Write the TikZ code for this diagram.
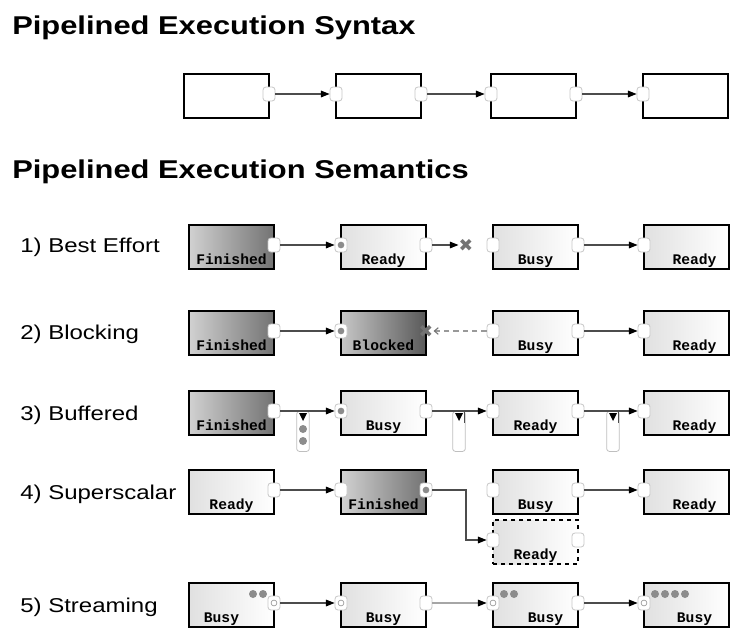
\documentclass[tikz,border=0pt]{standalone}
\usepackage{fontspec}
\setmainfont{Liberation Sans}
\newfontfamily\wideSans{Liberation Sans}[FakeStretch=1.2]
\newfontfamily\stagemono{Liberation Mono}
\newfontfamily\symbolfont{DejaVu Sans}
\usetikzlibrary{arrows.meta,calc}

% one pipeline stage: #1 name, #2 left x, #3 top y, #4 fill style, #5 state text, #6 text x offset
\newcommand\stage[6]{%
  \node[stagebox,#4] (#1) at (#2+42.5,#3+22) {};
  \node[stagetext] (#1t) at (#2+42.5+#6,#3+39) {#5};
}
% output port (east) and input port (west) of a stage
\newcommand\eport[2]{\node[#2] (#1e) at ([yshift=1.5pt]#1.east) {};}
\newcommand\wport[2]{\node[#2] (#1w) at ([yshift=1.5pt]#1.west) {};}

\tikzset{
  stagebox/.style={draw=black, line width=1.3pt, minimum width=63.75pt,
    minimum height=33pt, inner sep=0pt, outer sep=0pt},
  plainfill/.style={fill=white},
  lightfill/.style={left color=black!12, right color=white},
  darkfill/.style={left color=black!18, right color=black!55},
  blockfill/.style={left color=black!22, right color=black!65},
  stagetext/.style={anchor=base, inner sep=0pt,
    font=\stagemono\bfseries\fontsize{11}{11}\selectfont},
  port/.style={draw=black!22, fill=white, rounded corners=2.2pt,
    minimum width=9pt, minimum height=10.5pt, inner sep=0pt, line width=0.6pt},
  dotport/.style={port, path picture={\fill[black!45]
    (path picture bounding box.center) circle (2.5pt);}},
  ringport/.style={port, path picture={\draw[black!40, line width=0.5pt]
    (path picture bounding box.center) circle (2.2pt);}},
  xmark/.style={inner sep=0pt, text=black!55,
    font=\symbolfont\fontsize{13}{13}\selectfont},
  conn/.style={draw=black!70, line width=0.8pt,
    -{Triangle[length=6.5pt,width=5pt,color=black]}},
  faintconn/.style={conn, draw=black!35},
  backconn/.style={draw=black!40, line width=0.8pt, dash pattern=on 4pt off 3pt,
    -{Straight Barb[length=3pt,width=5pt,color=black!55]}},
  buffer/.style={draw=black!25, fill=white, rounded corners=2pt, anchor=north,
    minimum width=9.5pt, minimum height=30pt, inner sep=0pt, line width=0.6pt},
  token/.style={circle, fill=black!45, minimum size=6pt, inner sep=0pt},
  heading/.style={anchor=base west, inner sep=0pt,
    font=\wideSans\bfseries\fontsize{19.3}{20}\selectfont},
  rowlabel/.style={anchor=base west, inner sep=0pt,
    font=\wideSans\fontsize{15}{16}\selectfont},
}

\begin{document}
\begin{tikzpicture}[x=0.75pt,y=-0.75pt]
\useasboundingbox (0,0) rectangle (732,632);

% ---------------- syntax ----------------
\node[heading] (h1) at (12,34) {Pipelined Execution Syntax};
\stage{s1}{184}{74}{plainfill}{}{0}
\stage{s2}{336}{74}{plainfill}{}{0}
\stage{s3}{491}{74}{plainfill}{}{0}
\stage{s4}{643}{74}{plainfill}{}{0}
\eport{s1}{port} \wport{s2}{port} \eport{s2}{port}
\wport{s3}{port} \eport{s3}{port} \wport{s4}{port}
\draw[conn] (s1e) -- (s2w);
\draw[conn] (s2e) -- (s3w);
\draw[conn] (s3e) -- (s4w);

% ---------------- semantics ----------------
\node[heading] (h2) at (12,178) {Pipelined Execution Semantics};

% 1) best effort
\node[rowlabel] (l1) at (20,252) {1) Best Effort};
\stage{a1}{189}{225}{darkfill}{Finished}{0}
\stage{a2}{341}{225}{lightfill}{Ready}{0}
\stage{a3}{493}{225}{lightfill}{Busy}{0}
\stage{a4}{644}{225}{lightfill}{Ready}{8}
\eport{a1}{port} \wport{a2}{dotport} \eport{a2}{port}
\wport{a3}{port} \eport{a3}{port} \wport{a4}{port}
\node[xmark] (a2x) at (466,245) {✖};
\draw[conn] (a1e) -- (a2w);
\draw[conn] (a2e) -- (a2x);
\draw[conn] (a3e) -- (a4w);

% 2) blocking
\node[rowlabel] (l2) at (20,339) {2) Blocking};
\stage{b1}{189}{311}{darkfill}{Finished}{0}
\stage{b2}{341}{311}{blockfill}{Blocked}{0}
\stage{b3}{493}{311}{lightfill}{Busy}{0}
\stage{b4}{644}{311}{lightfill}{Ready}{8}
\eport{b1}{port} \wport{b2}{dotport}
\node[xmark] (b2x) at ([yshift=1.5pt]b2.east) {✖};
\wport{b3}{port} \eport{b3}{port} \wport{b4}{port}
\draw[conn] (b1e) -- (b2w);
\draw[backconn] (b3w) -- (b2x);
\draw[conn] (b3e) -- (b4w);

% 3) buffered
\node[rowlabel] (l3) at (20,420) {3) Buffered};
\stage{c1}{189}{391}{darkfill}{Finished}{0}
\stage{c2}{341}{391}{lightfill}{Busy}{0}
\stage{c3}{493}{391}{lightfill}{Ready}{0}
\stage{c4}{644}{391}{lightfill}{Ready}{8}
\eport{c1}{port} \wport{c2}{dotport} \eport{c2}{port}
\wport{c3}{port} \eport{c3}{port} \wport{c4}{port}
\node[buffer] (q1) at (303,411) {};
\node[buffer] (q2) at (459,411) {};
\node[buffer] (q3) at (613,411) {};
\node[token] (q1a) at (303,429) {};
\node[token] (q1b) at (303,441) {};
\foreach \q in {q1,q2,q3}{
  \fill[black] ([xshift=-3pt,yshift=-1.5pt]\q.north) -- ++(6pt,0)
    -- ++(-3pt,-6pt) -- cycle;
}
\draw[black!70, line width=0.7pt] ([xshift=4pt,yshift=-1pt]q2.north) -- ++(0,-8pt);
\draw[black!70, line width=0.7pt] ([xshift=4pt,yshift=-1pt]q3.north) -- ++(0,-8pt);
\draw[conn] (c1e) -- (c2w);
\draw[conn] (c2e) -- (c3w);
\draw[conn] (c3e) -- (c4w);

% 4) superscalar
\node[rowlabel] (l4) at (20,499) {4) Superscalar};
\stage{d1}{189}{470}{lightfill}{Ready}{0}
\stage{d2}{341}{470}{darkfill}{Finished}{0}
\stage{d3}{493}{470}{lightfill}{Busy}{0}
\stage{d4}{644}{470}{lightfill}{Ready}{8}
\stage{d5}{493}{520}{lightfill,dashed}{Ready}{0}
\eport{d1}{port} \wport{d2}{port} \eport{d2}{dotport}
\wport{d3}{port} \eport{d3}{port} \wport{d4}{port}
\wport{d5}{port} \eport{d5}{port}
\coordinate (fork) at (466,520);
\draw[conn] (d1e) -- (d2w);
\draw[conn] (d2e) -- (d2e -| fork) |- (d5w);
\draw[conn] (d3e) -- (d4w);

% 5) streaming
\node[rowlabel] (l5) at (20,612) {5) Streaming};
\stage{e1}{189}{583}{lightfill}{Busy}{-10}
\stage{e2}{341}{583}{lightfill}{Busy}{0}
\stage{e3}{493}{583}{lightfill}{Busy}{10}
\stage{e4}{644}{583}{lightfill}{Busy}{8}
\eport{e1}{ringport} \wport{e2}{ringport} \eport{e2}{port}
\wport{e3}{ringport} \eport{e3}{port} \wport{e4}{ringport}
\node[token] (e1a) at (253,594) {};
\node[token] (e1b) at (263,594) {};
\node[token] (e3a) at (504,594) {};
\node[token] (e3b) at (514,594) {};
\node[token] (e4a) at (655,594) {};
\node[token] (e4b) at (665,594) {};
\node[token] (e4c) at (675,594) {};
\node[token] (e4d) at (685,594) {};
\draw[conn] (e1e) -- (e2w);
\draw[faintconn] (e2e) -- (e3w);
\draw[conn] (e3e) -- (e4w);
\end{tikzpicture}
\end{document}
